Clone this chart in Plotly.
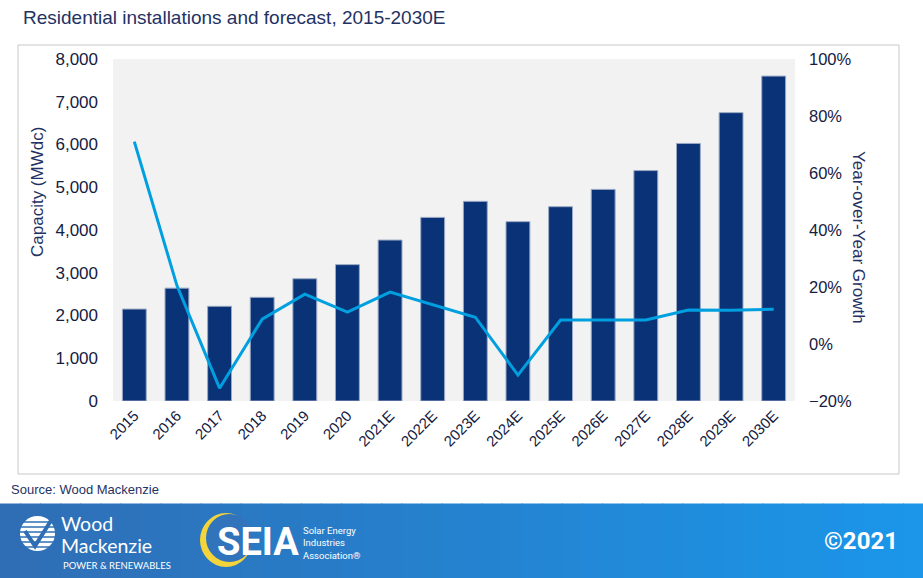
import plotly.graph_objects as go

# ---------------- data ----------------
years = ["2015", "2016", "2017", "2018", "2019", "2020", "2021E", "2022E",
         "2023E", "2024E", "2025E", "2026E", "2027E", "2028E", "2029E", "2030E"]
capacity_mwdc = [2150, 2640, 2215, 2425, 2860, 3190, 3765, 4295,
                 4670, 4195, 4545, 4950, 5390, 6025, 6745, 7600]
yoy_growth_pct = [71.0, 20.5, -15.5, 8.7, 17.5, 11.2, 18.2, 13.7,
                  9.4, -10.9, 8.4, 8.4, 8.4, 11.9, 11.8, 12.2]

title_text = "Residential installations and forecast, 2015-2030E"
left_axis_title = "Capacity (MWdc)"
right_axis_title = "Year-over-Year Growth"
source_text = "Source: Wood Mackenzie"

# ---------------- layout helpers (pixels -> paper) ----------------
W, H = 923, 578
L, R, T, B = 113, 795, 59, 401


def px(x):
    return (x - L) / (R - L)


def py(y):
    return (B - y) / (B - T)


NAVY = "#0A3377"
LINE = "#00A0E0"
TXT = "#14203F"
TITLE = "#1F3263"
FONT = "Liberation Sans, Arial, sans-serif"

fig = go.Figure()
fig.add_trace(go.Bar(
    x=years, y=capacity_mwdc, marker=dict(color=NAVY, line=dict(color="#9AA8C4", width=1)),
    width=0.56, yaxis="y", showlegend=False, hoverinfo="x+y"))
fig.add_trace(go.Scatter(
    x=years, y=yoy_growth_pct, mode="lines", line=dict(color=LINE, width=3),
    yaxis="y2", showlegend=False))

shapes = []
# outer frame
shapes.append(dict(type="rect", xref="paper", yref="paper", x0=px(18), x1=px(899),
                   y0=py(45), y1=py(474), line=dict(color="#C8C8C8", width=1), layer="below"))
# footer gradient band
c0 = (47, 110, 181)
c1 = (27, 150, 233)
N = 46
for i in range(N):
    t = i / (N - 1)
    col = "rgb(%d,%d,%d)" % tuple(round(a + (b - a) * t) for a, b in zip(c0, c1))
    x0 = i * W / N
    x1 = (i + 1) * W / N + 1
    shapes.append(dict(type="rect", xref="paper", yref="paper", x0=px(x0), x1=px(x1),
                       y0=py(503.5), y1=py(579), fillcolor=col, line=dict(width=0), layer="above"))

# Wood Mackenzie logo: white disc with stripes and check mark
band_left = "rgb(47,110,181)"
shapes.append(dict(type="circle", xref="paper", yref="paper", x0=px(20), x1=px(55),
                   y0=py(516), y1=py(551), fillcolor="white", line=dict(width=0), layer="above"))
for yy in [522, 527, 532, 537, 542, 547]:
    shapes.append(dict(type="line", xref="paper", yref="paper", x0=px(19), x1=px(56),
                       y0=py(yy), y1=py(yy), line=dict(color=band_left, width=1.3), layer="above"))
shapes.append(dict(type="path", xref="paper", yref="paper", layer="above",
                   path="M %f %f L %f %f L %f %f" % (px(25), py(531), px(35), py(546), px(52), py(519)),
                   line=dict(color=band_left, width=4)))
# SEIA ring (crescent)
shapes.append(dict(type="circle", xref="paper", yref="paper", x0=px(200), x1=px(252),
                   y0=py(513), y1=py(567), fillcolor="#F3D43A", line=dict(width=0), layer="above"))
shapes.append(dict(type="circle", xref="paper", yref="paper", x0=px(206), x1=px(253),
                   y0=py(514), y1=py(562), fillcolor="rgb(50,116,188)", line=dict(width=0), layer="above"))

annotations = [
    dict(text=title_text, x=px(21), y=py(18), xanchor="left", yanchor="middle",
         font=dict(family=FONT, size=19, color=TITLE)),
    dict(text=left_axis_title, x=px(38), y=py(192), textangle=-90, xanchor="center", yanchor="middle",
         font=dict(family=FONT, size=17, color=TITLE)),
    dict(text=right_axis_title, x=px(859), y=py(237), textangle=90, xanchor="center", yanchor="middle",
         font=dict(family=FONT, size=17, color=TITLE)),
    dict(text=source_text, x=px(9), y=py(489), xanchor="left", yanchor="middle",
         font=dict(family=FONT, size=13, color=TITLE)),
    dict(text="Wood", x=px(59), y=py(523), xanchor="left", yanchor="middle",
         font=dict(family="Lato, sans-serif", size=19.5, color="white")),
    dict(text="Mackenzie", x=px(59), y=py(545), xanchor="left", yanchor="middle",
         font=dict(family="Lato, sans-serif", size=19.5, color="white")),
    dict(text="POWER &amp; RENEWABLES", x=px(61), y=py(565), xanchor="left", yanchor="middle",
         font=dict(family="Lato, sans-serif", size=9.5, color="white")),
    dict(text="<b>SEIA</b>", x=px(215), y=py(542), xanchor="left", yanchor="middle",
         font=dict(family="Roboto, sans-serif", size=38, color="white")),
    dict(text="Solar Energy<br>Industries<br>Association®", x=px(301), y=py(543), xanchor="left",
         yanchor="middle", align="left",
         font=dict(family="Roboto, sans-serif", size=9.5, color="white")),
    dict(text="<b>©2021</b>", x=px(900), y=py(541), xanchor="right", yanchor="middle",
         font=dict(family="Roboto, sans-serif", size=24, color="white")),
]
for a in annotations:
    a.update(xref="paper", yref="paper", showarrow=False)

fig.update_layout(
    width=W, height=H,
    margin=dict(l=L, r=W - R, t=T, b=H - B, pad=0),
    paper_bgcolor="white", plot_bgcolor="#F2F2F2",
    font=dict(family=FONT, color=TXT),
    bargap=0.44,
    xaxis=dict(type="category", tickangle=-45, showgrid=False, showline=False, zeroline=False,
               tickfont=dict(size=15, color=TXT), ticks="", ticklabelstandoff=2),
    yaxis=dict(range=[0, 8000], dtick=1000, tickformat=",", showgrid=False, zeroline=False,
               showline=False, tickfont=dict(size=17, color=TXT), ticks="", ticklabelstandoff=14),
    yaxis2=dict(range=[-20, 100], dtick=20, ticksuffix="%", overlaying="y", side="right",
                showgrid=False, zeroline=False, showline=False, tickfont=dict(size=16.5, color=TXT),
                ticks="", ticklabelstandoff=13),
    shapes=shapes, annotations=annotations, showlegend=False,
)

fig.write_html("out.html", config={"displayModeBar": False},
               post_script="document.body.style.margin='0';document.body.style.overflow='hidden';")
